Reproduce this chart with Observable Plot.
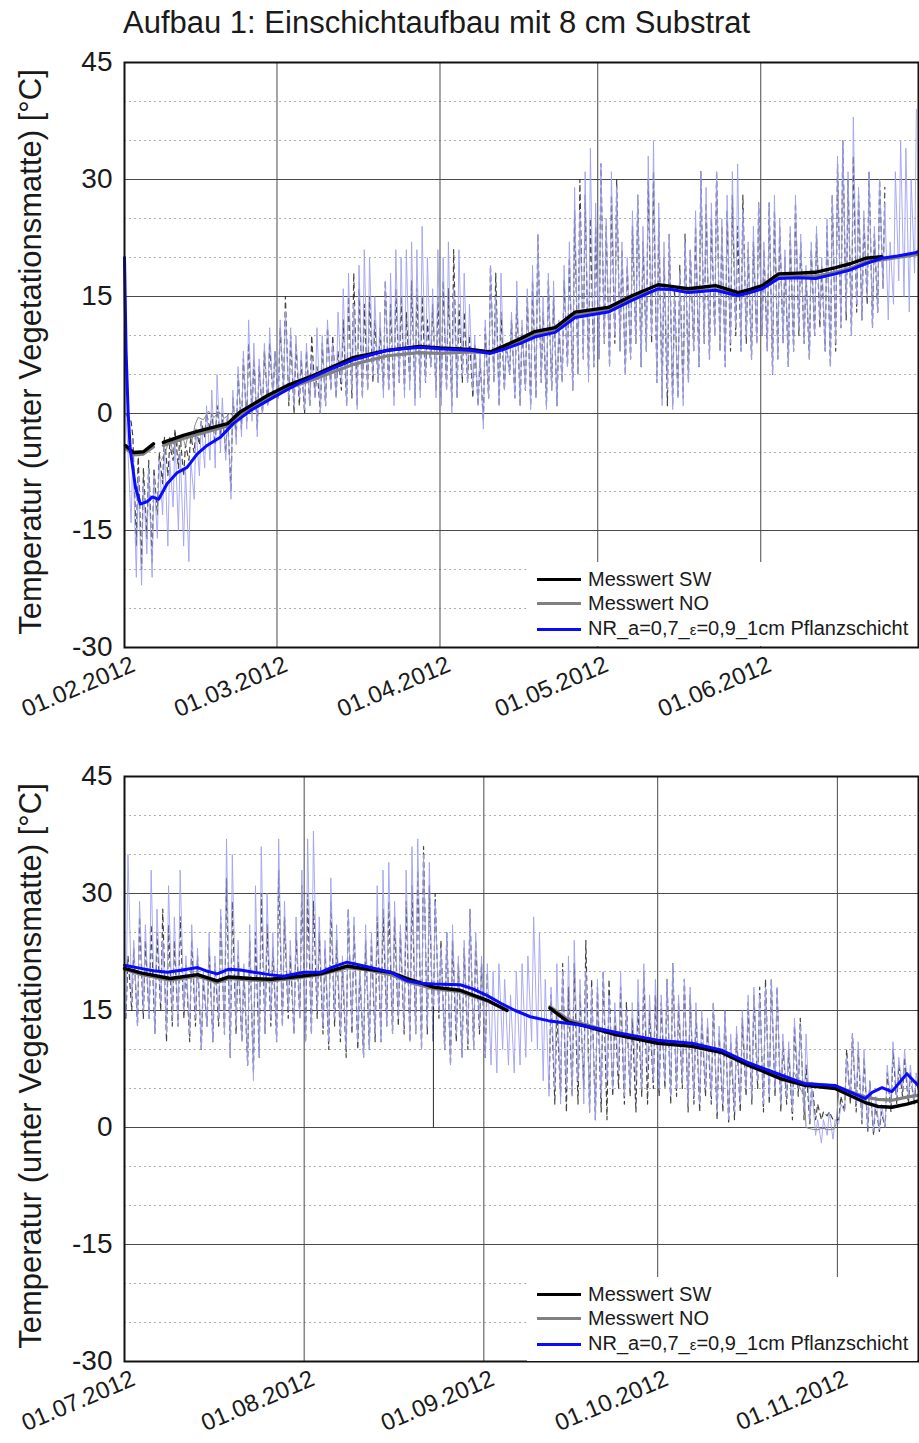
<!DOCTYPE html>
<html><head><meta charset="utf-8">
<script src="https://cdn.jsdelivr.net/npm/d3@7"></script>
<script src="https://cdn.jsdelivr.net/npm/@observablehq/plot@0.6"></script>
<style>
body{margin:0;background:#fff;}
#wrap{position:relative;width:919px;height:1443px;overflow:hidden;font-family:"Liberation Sans",Arial,sans-serif;color:#1a1a1a;}
.abs{position:absolute;}
.title{left:123px;top:7px;font-size:31px;line-height:31px;white-space:nowrap;}
.ylab{font-size:31px;line-height:31px;white-space:nowrap;transform:translate(-50%,-50%) rotate(-90deg);}
.legend{background:#fff;width:390px;height:84px;}
.legend .row{position:absolute;left:10px;height:20px;display:flex;align-items:center;}
.legend .sw{width:44px;height:3px;margin-right:7px;}
.legend .lt{font-size:20px;line-height:20px;white-space:nowrap;}
</style></head>
<body><div id="wrap"></div>
<script>
// ---------- texts ----------
const titleText = "Aufbau 1: Einschichtaufbau mit 8 cm Substrat";
const yLabelText = "Temperatur (unter Vegetationsmatte) [°C]";
const legendNames = ["Messwert SW", "Messwert NO", "NR_a=0,7_ε=0,9_1cm Pflanzschicht"];
const legendColors = ["#000000", "#808080", "#0a0aff"];

// ---------- axes ----------
const yTicks = [-30, -15, 0, 15, 30, 45];
const yTickLabels = ["-30", "-15", "0", "15", "30", "45"];
const yMinor = [-25, -20, -10, -5, 5, 10, 20, 25, 35, 40];
const p1Domain = ["2012-02-01", "2012-07-01"];
const p1XTicks = ["2012-02-01", "2012-03-01", "2012-04-01", "2012-05-01", "2012-06-01"];
const p1XTickLabels = ["01.02.2012", "01.03.2012", "01.04.2012", "01.05.2012", "01.06.2012"];
const p2Domain = ["2012-07-01", "2012-11-15"];
const p2XTicks = ["2012-07-01", "2012-08-01", "2012-09-01", "2012-10-01", "2012-11-01"];
const p2XTickLabels = ["01.07.2012", "01.08.2012", "01.09.2012", "01.10.2012", "01.11.2012"];

// ---------- panel 1 (Feb–Jun 2012), raw values: morning low / afternoon high per day ----------
const p1NrStart = 20;
const p1NrAm = [0,-14,-21,-22,-18,-21,-16,-13,-17,-12,-15,-17,-19,-11,-8,-7,-6,-7,-5,-6,-11,-4,-3,-2,-1,-3,0,1,2,
  2,3,2,1,2,0.5,1,2,0,1,3,2,4,1,3,0.5,2,3,5,4,2,3,1,4,2,3,1,2,4,6,2,
  1,3,0,2,5,4,3,1,-2,2,4,1,3,5,2,1,3,0.5,2,4,0.5,3,1,4,6,3,5,7,4,6,
  7,9,6,10,8,5,7,9,6,8,10,4,1,3,0.5,2,1,4,8,6,9,7,10,8,6,9,11,8,10,7,9,
  10,8,5,7,9,6,8,11,9,7,10,12,8,6,9,11,13,10,14,12,15,11,13,16,12,14,17,15,13,18];
const p1NrPm = [-4,-5,-8,-9,-7,-8,-6,-4,-6,-3,-5,-7,-6,-2,-1,1,3,5,2,0,3,6,8,12,9,7,9,11,8,
  12,13,11,10,8,9,7,11,10,12,9,13,16,18,14,19,21,20,15,13,17,18,21,20,21,22,21,24,20,16,21,
  20,22,16,21,18,14,10,8,12,19,15,18,9,13,17,12,16,19,23,15,18,17,12,19,22,29,26,31,34,27,
  32,25,31,29,22,20,26,28,24,33,35,27,22,23,15,18,22,21,26,31,29,27,31,25,28,31,32,26,22,24,27,
  22,27,28,25,21,24,28,23,19,22,24,20,25,28,33,35,31,38,29,26,31,24,30,27,22,31,35,34,30,39];
const p1SwAm = [0,-1,-17,-20,-16,-19,-13,-9,-8,-6,-7,-8,-6,-5,-4,-3,-2,-4,-3,-5,-10,-3,-2,-1,0,-2,0,1,2,
  2,3,1,0,1,0,1,2,0,1,3,2,3,1,2,1,2,3,4,4,3,3,2,4,3,4,2,3,4,6,3,
  2,3,1,2,4,4,2,1,-1,2,4,1,3,5,2,1,3,1,2,4,1,3,1,4,6,3,5,7,5,6,
  7,9,6,9,8,5,7,9,6,8,9,4,2,1,1,2,2,4,8,6,9,7,10,8,6,8,10,8,9,7,9,
  10,8,5,7,9,6,8,10,9,7,10,11,8,6,8,11,12,10,13,12,14,11,13,16];
const p1SwPm = [-0.5,-3,-5,-7,-6,-7,-5,-3,-4,-2,-3,-4,-3,-2,-1,0,0,1,0,0,2,5,7,9,7,6,8,9,8,
  11,15,10,9,7,8,10,6,9,11,10,8,12,15,18,16,14,15,12,11,17,14,16,15,13,17,16,15,12,14,15,
  17,16,21,14,13,10,9,7,11,19,18,13,9,12,15,11,15,17,23,13,17,15,11,17,20,26,30,28,25,24,
  32,24,28,30,21,19,24,28,22,30,31,25,20,23,16,19,23,21,24,31,27,25,31,24,26,28,24,28,21,22,27,
  21,27,26,24,20,23,27,22,18,21,23,19,24,28,32,35,30,33,28,25,31,23,30,29];
const p1NoRawDay = [7,8,8.6,9.2,9.8,10.4,11,11.6,12.2,12.8,13.4,14,15,16,17,18,19,20,21,22];
const p1NoRawVal = [-6,-4.5,-3,-5,-3.2,-4.8,-2.8,-4.2,-2.5,-3.5,-1.5,-0.5,-0.8,0.3,-0.5,0.2,-0.6,0,-0.4,0.5];
// smoothed series (day offset from 01.02.2012, value; null = gap)
const p1NrAvgDay = [0,0.3,0.7,1.1,2.1,3,4.3,5.3,6.5,8.1,10,11.9,13.8,15.7,18.3,20.7,24,28.4,33.5,38.6,43.6,50,56.3,60,65.8,69.6,72,75.3,78,81.9,85.7,92,96.5,101.5,104,107.2,112.4,116.7,119,121.3,124.4,128,131.4,135.2,138,140.9,144,147,150.4,151];
const p1NrAvgVal = [20,8,0,-4.7,-9.5,-11.6,-11.3,-10.7,-11,-9,-7.6,-6.9,-5.2,-4.1,-3,-1.3,0.4,2.1,4,5.5,6.9,8.1,8.5,8.3,8.1,7.7,8.2,9,9.8,10.4,12.3,13,14.5,16,15.9,15.5,15.8,15.1,15.5,16,17.3,17.4,17.3,17.9,18.4,19.2,19.9,20.2,20.6,20.8];
const p1SwAvgDay = [0.2,1.7,3.6,5.5,6.5,7.4,11.2,14.4,19.6,22,27.2,31,36,43.6,50,56,60,65.8,69.6,72,75.3,78,81.9,85.7,92,96.5,101.5,104,107.2,112.4,116.7,119,121.3,124.4,128,131.4,135.2,138,140.9,144];
const p1SwAvgVal = [-4.1,-5,-4.9,-3.9,null,-3.7,-2.8,-2.2,-1.3,0.2,2.3,3.6,4.9,7.2,8.1,8.6,8.4,8.2,7.9,8.6,9.6,10.5,11,13,13.6,15.1,16.5,16.3,16,16.4,15.5,15.9,16.4,17.9,18,18.1,18.7,19.2,19.9,20.1];
const p1NoAvgDay = [0.2,1.7,3.6,5.5,6.5,7.4,11.2,14.4,19.6,22,27.2,31,36,43.6,50,56,60,65.8,69.6,72,75.3,78,81.9,85.7,92,96.5,101.5,104,107.2,112.4,116.7,119,121.3,124.4,128,131.4,135.2,138,140.9,144,147,151];
const p1NoAvgVal = [-4.5,-5.3,-5.2,-4.3,null,-4.1,-3.2,-2.6,-1.6,-0.2,1.9,3.2,4.4,6.3,7.4,7.8,7.7,7.9,7.8,8.3,9.2,10.1,10.7,12.6,13.3,14.8,15.9,15.9,15.7,15.9,15.2,15.6,16.1,17.5,17.6,17.6,18.1,18.6,19.4,19.7,20,20.4];

// ---------- panel 2 (Jul–Nov 2012) ----------
const p2NrAm = [14,16,13,15,14,12,16,12,14,13,15,12,14,10,13,11,14,12,9,13,11,8,6,9,12,14,11,13,15,12,14,
  11,12,15,13,11,14,12,10,13,11,9,10,12,11,13,12,14,13,11,12,10,13,11,15,10,8,12,9,11,10,13,
  9,8,7,10,8,7,8,9,11,10,6,4,5,3,5,4,6,3,2,1,4,6,5,7,4,5,6,5,7,6,
  5,6,4,5,6,3,4,3,5,4,2,3,1,2,3,5,4,6,3,4,5,3,4,2,5,2,1,-1,-2,-1,-1.5,
  0.5,2,4,3,1,0,-0.5,-0.3,0,3,4,5,4,3,4];
const p2NrPm = [35,24,29,26,33,28,24,31,27,33,22,26,23,20,25,22,28,37,35,24,21,26,31,36,30,25,37,29,24,27,33,
  37,38,27,24,32,26,22,28,27,21,26,25,31,33,34,29,26,33,36,37,35,34,29,23,25,26,22,24,28,25,22,
  21,20,21,19,17,20,21,22,27,25,19,18,21,20,22,24,19,20,18,19,20,17,16,20,15,16,19,21,17,19,
  17,19,21,17,19,18,16,15,14,16,13,15,12,13,15,17,18,17,18,19,18,12,11,14,13,12,5,1,1,2,1,
  3,9,12,11,10,6,4,3,8,11,9,10,8,7,6];
const p2SwAm = [14,15,13,14,14,12,15,11,13,13,14,11,13,10,13,11,13,12,9,12,11,8,7,9,12,13,11,13,14,12,14,
  11,12,14,12,10,13,11,9,12,10,9,10,11,11,13,12,13,12,11,12,10,12,11,14,10,8,11,9,10,10,12,
  9,null,null,null,null,null,null,null,null,null,null,5,3,4,2,4,3,5,2,1,2,1,4,5,3,4,2,4,3,5,
  4,5,3,4,5,2,3,2,4,3,1,2,0.5,1,2,4,3,5,2,3,4,2,3,1,4,1,0.5,1,1,1.5,1,
  1,2,3,2,0.5,-0.5,-1,-0.5,0,2,3,4,3,3,4];
const p2SwPm = [22,23,27,24,26,25,28,26,24,27,21,24,22,19,23,21,27,32,29,22,20,24,25,30,26,23,33,27,22,25,31,
  30,29,25,23,29,24,21,28,26,20,24,24,27,28,29,27,25,29,31,33,36,31,30,24,25,24,21,23,28,24,21,
  20,null,null,null,null,null,null,null,null,null,null,17,15,21,18,21,17,24,19,18,20,19,15,18,16,14,16,20,15,17,
  16,19,21,16,19,17,15,14,13,16,12,15,11,12,14,16,17,18,19,19,18,11,10,13,14,8,6,3,2,2,1,
  4,10,12,10,9,6,3,2,7,10,8,9,7,6,5];
const p2NoRawDay = [115.6,116.6,117.3,117.6,118.5,119.5,120.5,121.5,122.4,122.8,123.3];
const p2NoRawVal = [7,5,4,0,-0.2,-0.3,-0.1,-0.3,-0.2,0.5,5];
const p2SwDropDay = [53.3,53.3];
const p2SwDropVal = [15.5,0];
const p2NrAvgDay = [0,2.8,5,7.4,10,12.6,14,16,18,20,22.3,25,27.4,30.9,33.8,36,38.4,41.9,45.9,48.8,51,53.3,57.9,60,62.6,65,67.4,70,73.1,78.9,84.7,92,97.9,103.1,107.6,113.4,117.4,122.6,127.8,129,130.7,132.4,135,136.4,137.5];
const p2NrAvgVal = [20.8,20.4,20.1,19.9,20.2,20.5,20.1,19.7,20.3,20.2,19.9,19.6,19.4,19.9,19.9,20.6,21.2,20.6,19.9,18.8,18.5,18.4,18.3,17.8,16.9,15.9,15,14.2,13.7,13.1,12.2,11.2,10.8,9.9,8.3,6.7,5.6,5.4,3.7,4.5,5.1,4.6,6.9,5.8,5];
const p2SwAvgDay = [0,3,7.9,12.6,16,18,22,25.2,29.1,33.8,38.4,41.9,45.9,48.8,53.3,57.9,62.6,66,70,73.4,76.6,80,84.7,92,97.9,103.1,107.6,113.4,117.4,122.6,127.8,130,132.4,135,137.5];
const p2SwAvgVal = [20.4,19.8,19.1,19.6,18.8,19.3,19.1,19,19.3,19.7,20.7,20.3,19.9,19.1,18,17.6,16.3,15,null,15.3,13.5,12.9,11.9,10.8,10.4,9.6,8,6.2,5.4,5,3.2,2.7,2.6,3,3.5];
const p2NoAvgDay = [0,3,7.9,12.6,16,18,22,25.2,29.1,33.8,38.4,41.9,45.9,48.8,53.3,57.9,62.6,66,70,73.4,76.6,80,84.7,92,97.9,103.1,107.6,113.4,117.4,122.6,127.8,130,132.4,135,137.5];
const p2NoAvgVal = [20.3,19.6,18.9,19.4,18.6,19.1,18.9,18.8,19.1,19.6,20.5,20.2,19.6,18.7,17.8,17.4,16.2,15.1,null,15.5,13.8,13.1,12.1,11,10.6,9.8,8.3,6.5,5.7,5.3,3.9,3.6,3.5,3.9,4.2];

// ---------- helpers ----------
const DAY = 864e5;
const at = (start, d) => new Date(start.getTime() + d * DAY);
function rawSeries(start, am, pm, first) {
  const pts = [];
  if (first != null) pts.push({t: start, v: first});
  am.forEach((a, i) => {
    pts.push({t: at(start, i + 0.25), v: a});
    pts.push({t: at(start, i + 0.6), v: pm[i]});
  });
  return pts;
}
const pairs = (start, days, vals) => days.map((d, i) => ({t: at(start, d), v: vals[i]}));

function panel(cfg) {
  const start = new Date(cfg.domain[0]);
  const tickDates = cfg.ticks.map(s => new Date(s));
  const marks = [
    Plot.ruleY(yMinor, {stroke: "#b0b0b0", strokeDasharray: "2,3", strokeWidth: 1}),
    Plot.ruleY(yTicks, {stroke: "#4a4a4a", strokeWidth: 1}),
    Plot.ruleX(tickDates, {stroke: "#4a4a4a", strokeWidth: 1}),
    Plot.line(rawSeries(start, cfg.swAm, cfg.swPm, null), {x: "t", y: "v", stroke: "#222", strokeWidth: 1.2, strokeDasharray: "5,4", strokeOpacity: 0.85}),
    Plot.line(rawSeries(start, cfg.nrAm, cfg.nrPm, cfg.nrStart), {x: "t", y: "v", stroke: "#9ea2f2", strokeWidth: 1, strokeOpacity: 0.9}),
    Plot.line(pairs(start, cfg.noRawDay, cfg.noRawVal), {x: "t", y: "v", stroke: "#8a8a8a", strokeWidth: 1}),
  ];
  if (cfg.dropDay) marks.push(Plot.line(pairs(start, cfg.dropDay, cfg.dropVal), {x: "t", y: "v", stroke: "#2a2a2a", strokeWidth: 1}));
  marks.push(
    Plot.line(pairs(start, cfg.noAvgDay, cfg.noAvgVal), {x: "t", y: "v", stroke: legendColors[1], strokeWidth: 3.2}),
    Plot.line(pairs(start, cfg.swAvgDay, cfg.swAvgVal), {x: "t", y: "v", stroke: legendColors[0], strokeWidth: 3.4}),
    Plot.line(pairs(start, cfg.nrAvgDay, cfg.nrAvgVal), {x: "t", y: "v", stroke: legendColors[2], strokeWidth: 3}),
    Plot.axisY(yTicks, {tickSize: 0, tickPadding: 12, fontSize: 28, label: null,
      tickFormat: d => yTickLabels[yTicks.indexOf(d)]}),
    Plot.axisX(tickDates, {tickSize: 0, tickPadding: 16, tickRotate: -23, fontSize: 24, dx: 9, label: null,
      tickFormat: d => cfg.tickLabels[tickDates.findIndex(t => +t === +d)]}),
    Plot.frame({stroke: "#111", strokeWidth: 2})
  );
  const svg = Plot.plot({
    width: 919, height: cfg.height,
    marginTop: cfg.mt, marginBottom: cfg.mb, marginLeft: 124, marginRight: 1,
    x: {type: "utc", domain: cfg.domain.map(s => new Date(s))},
    y: {domain: [-30, 45]},
    style: {fontFamily: "Liberation Sans, Arial, sans-serif", fontSize: "24px", color: "#1a1a1a", background: "transparent", overflow: "visible"},
    marks
  });
  svg.style.position = "absolute";
  svg.style.left = "0px";
  svg.style.top = cfg.top + "px";
  return svg;
}

const wrap = document.getElementById("wrap");
function div(cls, css, html) {
  const el = document.createElement("div");
  el.className = "abs " + cls;
  Object.assign(el.style, css);
  if (html != null) el.innerHTML = html;
  wrap.appendChild(el);
  return el;
}

wrap.appendChild(panel({top: 40, height: 685, mt: 22, mb: 78, domain: p1Domain, ticks: p1XTicks, tickLabels: p1XTickLabels,
  nrStart: p1NrStart, nrAm: p1NrAm, nrPm: p1NrPm, swAm: p1SwAm, swPm: p1SwPm, noRawDay: p1NoRawDay, noRawVal: p1NoRawVal,
  nrAvgDay: p1NrAvgDay, nrAvgVal: p1NrAvgVal, swAvgDay: p1SwAvgDay, swAvgVal: p1SwAvgVal, noAvgDay: p1NoAvgDay, noAvgVal: p1NoAvgVal}));
wrap.appendChild(panel({top: 750, height: 693, mt: 26, mb: 82, domain: p2Domain, ticks: p2XTicks, tickLabels: p2XTickLabels,
  nrStart: null, nrAm: p2NrAm, nrPm: p2NrPm, swAm: p2SwAm, swPm: p2SwPm, noRawDay: p2NoRawDay, noRawVal: p2NoRawVal,
  dropDay: p2SwDropDay, dropVal: p2SwDropVal,
  nrAvgDay: p2NrAvgDay, nrAvgVal: p2NrAvgVal, swAvgDay: p2SwAvgDay, swAvgVal: p2SwAvgVal, noAvgDay: p2NoAvgDay, noAvgVal: p2NoAvgVal}));

div("title", {}, titleText);
div("ylab", {left: "30px", top: "352px"}).textContent = yLabelText;
div("ylab", {left: "30px", top: "1066px"}).textContent = yLabelText;

function legend(top) {
  const box = div("legend", {left: "527px", top: top + "px"});
  const rowsY = [7, 31, 57];
  legendNames.forEach((name, i) => {
    const row = document.createElement("div");
    row.className = "row";
    row.style.top = rowsY[i] + "px";
    const sw = document.createElement("div");
    sw.className = "sw";
    sw.style.background = legendColors[i];
    const lt = document.createElement("div");
    lt.className = "lt";
    if (i === 2) lt.innerHTML = name.replace("ε", '<span style="font-size:15px">ε</span>');
    else lt.textContent = name;
    row.appendChild(sw); row.appendChild(lt);
    box.appendChild(row);
  });
}
legend(562);
legend(1277);
</script></body></html>
